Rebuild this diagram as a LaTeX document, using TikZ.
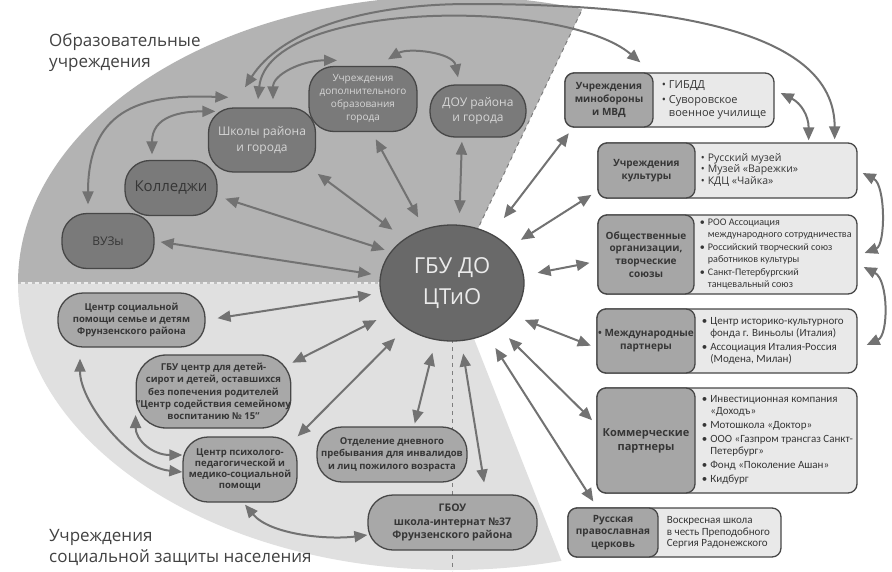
\documentclass[tikz,border=0pt]{standalone}
\usepackage{fontspec}
\setmainfont{Open Sans}
\newfontfamily\cf{Carlito}
\usetikzlibrary{arrows.meta,shapes.geometric,calc}
\definecolor{edureg}{HTML}{B3B3B3}
\definecolor{socreg}{HTML}{E0E0E0}
\definecolor{edufill}{HTML}{7A7A7A}
\definecolor{cfill}{HTML}{696969}
\definecolor{socfill}{HTML}{A8A8A8}
\definecolor{bord}{HTML}{474747}
\definecolor{arrc}{HTML}{727272}
\definecolor{boxl}{HTML}{A6A6A6}
\definecolor{boxr}{HTML}{E9E9E9}
\definecolor{txt}{HTML}{363636}
\definecolor{lbl}{HTML}{424242}
\definecolor{dashc}{HTML}{7E7E7E}
\definecolor{lighttxt}{HTML}{D6D6D6}
\tikzset{
  conn/.style={draw=arrc, line width=2pt,
    {Triangle[length=13pt,width=11pt]}-{Triangle[length=13pt,width=11pt]}},
  cnode/.style={ellipse, draw=bord, line width=1.3pt, fill=cfill, inner sep=0pt,
    minimum width=144pt, minimum height=116pt, text=white!92!black, align=center,
    font=\fontsize{22}{31}\selectfont},
  edunode/.style={rectangle, draw=bord, line width=1.3pt, fill=edufill, inner sep=0pt,
    rounded corners=25pt, align=center},
  socnode/.style={rectangle, draw=bord, line width=1.3pt, fill=socfill, inner sep=0pt,
    rounded corners=25pt, align=center, text=txt, font=\bfseries\fontsize{9.5}{12.3}\selectfont},
  obox/.style={rectangle, draw=bord, line width=1.3pt, fill=boxr, rounded corners=9pt, inner sep=0pt},
  lbox/.style={rectangle, draw=bord, line width=1.3pt, fill=boxl, rounded corners=9pt, inner sep=0pt,
    align=center, text=txt, font=\bfseries\fontsize{10}{12.8}\selectfont},
  rtext/.style={inner sep=0pt, text=txt, anchor=west},
  lbltext/.style={inner sep=0pt, text=lbl, align=left, anchor=north west,
    font=\fontsize{17}{21}\selectfont}
}
\begin{document}
\begin{tikzpicture}[x=1pt,y=-1pt]
\useasboundingbox (0,0) rectangle (892,571);
\fill[white] (0,0) rectangle (892,571);
% regions
\begin{scope}
\clip (452,283) ellipse [x radius=434, y radius=287];
\fill[edureg] (452,283) -- (-5,283) -- (-5,-5) -- (589,-5) -- cycle;
\fill[socreg] (452,283) -- (-5,283) -- (-5,580) -- (569,580) -- cycle;
\draw[line width=1.3pt, draw=white!75!black] (452,283) -- (-5,283);
\draw[line width=1.3pt, draw=white!93!black, dash pattern=on 4pt off 3pt] (452,283) -- (-5,283);
\draw[line width=1pt, draw=dashc, dash pattern=on 4pt off 4pt] (452,283) -- (589,-5);
\end{scope}
\draw[line width=1pt, draw=dashc, dash pattern=on 4pt off 4pt] (452,283) -- (452,571);

% labels
\node[lbltext] (lab1) at (49,33) {Образовательные\\учреждения};
\node[lbltext] (lab2) at (49,529) {Учреждения\\социальной защиты населения};

% centre
\node[cnode] (c) at (452,283) {ГБУ ДО\\ЦТиО};

% education
\node[edunode, minimum width=107pt, minimum height=64pt, text=lighttxt,
  font=\fontsize{12}{16}\selectfont] (sch) at (262,140) {Школы района\\и города};
\node[edunode, minimum width=92pt, minimum height=55pt, text=txt,
  font=\fontsize{15}{18}\selectfont] (kol) at (171,188) {Колледжи};
\node[edunode, minimum width=92pt, minimum height=55pt, text=txt,
  font=\fontsize{12}{15}\selectfont] (vuz) at (108,241) {ВУЗы};
\node[edunode, minimum width=108pt, minimum height=65pt, text=lighttxt,
  font=\fontsize{10}{13}\selectfont] (dop) at (363,99) {Учреждения\\дополнительного\\образования\\города};
\node[edunode, minimum width=96pt, minimum height=52pt, text=lighttxt,
  font=\fontsize{12}{15.5}\selectfont] (dou) at (478,111) {ДОУ района\\и города};

% social
\node[socnode, minimum width=147pt, minimum height=54pt] (soc) at (131.5,320)
  {Центр социальной\\помощи семье и детям\\Фрунзенского района};
\node[socnode, minimum width=153pt, minimum height=73pt, rounded corners=30pt] (sir) at (213.5,391.5)
  {ГБУ центр для детей-\\сирот и детей, оставшихся\\без попечения родителей\\"Центр содействия семейному\\воспитанию № 15"};
\node[socnode, minimum width=114pt, minimum height=65pt, font=\bfseries\fontsize{9.5}{11}\selectfont] (psy) at (240,469.5)
  {Центр психолого-\\педагогической и\\медико-социальной\\помощи};
\node[socnode, minimum width=150pt, minimum height=55pt] (otd) at (392,454.5)
  {Отделение дневного\\пребывания для инвалидов\\и лиц пожилого возраста};
\node[socnode, minimum width=169pt, minimum height=55pt, font=\bfseries\fontsize{10.5}{13.5}\selectfont] (gbou) at (452.5,522.5)
  {ГБОУ\\школа-интернат №37\\Фрунзенского района};

% right boxes
\node[obox, minimum width=209pt, minimum height=54pt] (b1) at (669.5,100) {};
\node[lbox, minimum width=88pt, minimum height=54pt, anchor=west] (b1l) at (b1.west) {Учреждения\\минобороны\\и МВД};
\node[rtext, font=\fontsize{11}{13}\selectfont] (b1t) at ([xshift=8pt]b1l.east)
  {\begin{tabular}{@{}l@{\hspace{3pt}}l@{}}•&ГИБДД\\[2pt]•&Суворовское\\&военное училище\end{tabular}};

\node[obox, minimum width=259pt, minimum height=55pt] (b2) at (727.5,170.5) {};
\node[lbox, minimum width=97pt, minimum height=55pt, anchor=west] (b2l) at (b2.west) {Учреждения\\культуры};
\node[rtext, font=\fontsize{10.5}{11.8}\selectfont] (b2t) at ([xshift=5pt]b2l.east)
  {\begin{tabular}{@{}l@{\hspace{3pt}}l@{}}•&Русский музей\\•&Музей «Варежки»\\•&КДЦ «Чайка»\end{tabular}};

\node[obox, minimum width=259pt, minimum height=79pt] (b3) at (727.5,254.5) {};
\node[lbox, minimum width=96pt, minimum height=79pt, anchor=west] (b3l) at (b3.west) {Общественные\\организации,\\творческие\\союзы};
\node[rtext, font=\cf\fontsize{10.1}{12}\selectfont] (b3t) at ([xshift=5pt]b3l.east)
  {\begin{tabular}{@{}l@{\hspace{3pt}}l@{}}•&РОО Ассоциация\\&международного сотрудничества\\[1pt]•&Российский творческий союз\\&работников культуры\\[1pt]•&Санкт-Петербургский\\&танцевальный союз\end{tabular}};

\node[obox, minimum width=260pt, minimum height=64pt] (b4) at (727,341) {};
\node[lbox, minimum width=98pt, minimum height=64pt, anchor=west] (b4l) at (b4.west) {• Международные\\партнеры};
\node[rtext, font=\cf\fontsize{11}{12}\selectfont] (b4t) at ([xshift=6pt]b4l.east)
  {\begin{tabular}{@{}l@{\hspace{3pt}}l@{}}•&Центр историко-культурного\\&фонда г. Виньолы (Италия)\\[2pt]•&Ассоциация Италия-Россия\\&(Модена, Милан)\end{tabular}};

\node[obox, minimum width=260pt, minimum height=105pt] (b5) at (727,440.5) {};
\node[lbox, minimum width=98pt, minimum height=105pt, anchor=west, font=\bfseries\fontsize{11}{14}\selectfont] (b5l) at (b5.west) {Коммерческие\\партнеры};
\node[rtext, font=\cf\fontsize{11}{12}\selectfont] (b5t) at ([xshift=6pt]b5l.east)
  {\begin{tabular}{@{}l@{\hspace{3pt}}l@{}}•&Инвестиционная компания\\&«Доходъ»\\[2pt]•&Мотошкола «Доктор»\\[2pt]•&ООО «Газпром трансгаз Санкт-\\&Петербург»\\[2pt]•&Фонд «Поколение Ашан»\\[2pt]•&Кидбург\end{tabular}};

\node[obox, minimum width=213pt, minimum height=49pt] (b6) at (674.5,532.5) {};
\node[lbox, minimum width=90pt, minimum height=49pt, anchor=west, font=\bfseries\fontsize{10}{12.5}\selectfont] (b6l) at (b6.west) {Русская\\православная\\церковь};
\node[rtext, align=left, font=\cf\fontsize{11}{11.5}\selectfont] (b6t) at ([xshift=8pt]b6l.east)
  {Воскресная школа\\в честь Преподобного\\Сергия Радонежского};

% straight connectors
\draw[conn, shorten <=6pt, shorten >=8.6pt] (vuz.east) -- (c.174.3);
\draw[conn, shorten <=8pt, shorten >=6.2pt] (kol.-10) -- (c.153.8);
\draw[conn, shorten <=2pt, shorten >=15pt] (sch.south east) -- (c.137.5);
\draw[conn, shorten <=8pt, shorten >=13pt] (dop.-75) -- (c.117.6);
\draw[conn, shorten <=4pt, shorten >=11.4pt] (dou.-121.6) -- (c.83.4);
\draw[conn, shorten <=7pt, shorten >=20pt] (b1.196.3) -- (c.51.2);
\draw[conn, shorten <=7pt, shorten >=13.5pt] (b2.189.9) -- (c.32.3);
\draw[conn, shorten <=8pt, shorten >=13.8pt] (b3.183.75) -- (c.6.7);
\draw[conn, shorten <=6pt, shorten >=13pt] (b4.183.5) -- (c.-28.8);
\draw[conn, shorten <=6pt, shorten >=14.5pt] (b5.173.6) -- (c.-44.5);
\draw[conn, shorten <=7pt, shorten >=16pt] (b6.162.5) -- (c.-56.5);
\draw[conn, shorten <=12pt, shorten >=12.5pt] (gbou.40.2) -- (c.-81.9);
\draw[conn, shorten <=3pt, shorten >=13pt] (otd.52.6) -- (c.-106.2);
\draw[conn, shorten <=12pt, shorten >=9.3pt] (soc.east) -- (c.188.5);
\draw[conn, shorten <=1pt, shorten >=15pt] (sir.20) -- (c.206.3);
\draw[conn, shorten >=14.5pt] (psy.north east) -- (c.224.5);

% curved connectors
\coordinate (arctop) at (470,4);
\draw[conn] ([xshift=-19pt,yshift=5.5pt]kol.north) .. controls +(0,-38) and +(-35,0) .. ([xshift=7.5pt,yshift=-4pt]sch.north west);
\draw[conn] ([xshift=-20pt,yshift=8.5pt]vuz.north) .. controls +(0,-100) and +(-80,-3) .. ([xshift=20.5pt,yshift=10pt]sch.north west);
\draw[conn] ([xshift=11pt,yshift=8pt]sch.north) .. controls +(0,-25) and +(-35,0) .. ([xshift=-26pt,yshift=5.5pt]dop.north);
\draw[conn] ([xshift=25pt,yshift=6.5pt]dop.north) .. controls +(20,-12) and +(-5,-25) .. ([xshift=-20pt,yshift=7pt]dou.north);
\draw[conn] ([xshift=-4pt,yshift=8pt]sch.north) .. controls +(10,-100) and +(-76,-65) .. ([xshift=76pt,yshift=10pt]b1.north west);
\draw[conn] ([xshift=-17pt,yshift=20pt]sch.north) .. controls +(35,-55) and +(-110,0) .. (arctop) .. controls +(230,0) and +(0,-100) .. ([xshift=-23pt,yshift=3pt]b2.north east);
\draw[conn] ([xshift=6pt,yshift=7pt]b1.east) .. controls +(20,10) and +(0,-25) .. ([xshift=-49pt,yshift=2pt]b2.north east);
\draw[conn] ([xshift=5pt,yshift=-2.5pt]b2.east) .. controls +(23,12) and +(21,-8) .. ([xshift=7pt,yshift=1.5pt]b3.east);
\draw[conn] ([xshift=6pt,yshift=-12.5pt]b3.east) .. controls +(25,13) and +(22,-10) .. ([xshift=9pt,yshift=-4pt]b4.east);
\draw[conn] ([xshift=-51.5pt,yshift=-11pt]soc.south) .. controls +(0,45) and +(-50,-5) .. ([yshift=-2.5pt]psy.west);
\draw[conn] ([yshift=-23.5pt]sir.west) .. controls +(0,25) and +(-30,0) .. ([yshift=14.5pt]psy.west);
\draw[conn] ([xshift=5pt,yshift=-2pt]psy.south) .. controls +(25,30) and +(-40,5) .. ([yshift=-12.5pt]gbou.west);
\end{tikzpicture}
\end{document}
